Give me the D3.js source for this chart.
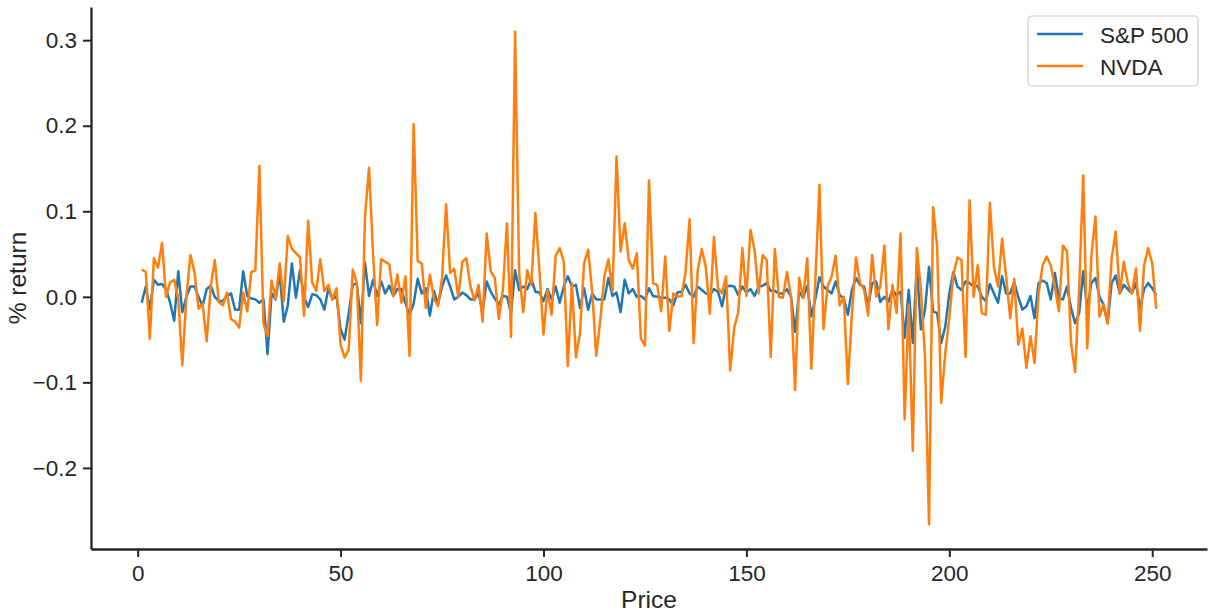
<!DOCTYPE html>
<html><head><meta charset="utf-8">
<script src="https://cdn.jsdelivr.net/npm/d3@7"></script>
<style>
body{margin:0;background:#fff;}
svg{display:block;font-family:"Liberation Sans",Arial,sans-serif;}
</style></head>
<body><svg id="c" width="1213" height="614"></svg>
<script>
const seriesNames = ["S&P 500", "NVDA"];
const seriesColors = ["#1f77b4", "#ff7f0e"];
const xTicks = [0, 50, 100, 150, 200, 250];
const yTicks = [-0.2, -0.1, 0.0, 0.1, 0.2, 0.3];
const xLabel = "Price";
const yLabel = "% return";

const sp500 = [
-0.007,0.012,-0.015,0.020,0.014,0.015,0.009,-0.007,-0.028,0.030,
-0.018,0.000,0.012,0.012,0.000,-0.011,0.009,0.013,0.000,-0.005,
-0.005,0.001,0.004,-0.015,-0.015,0.030,0.001,-0.002,-0.003,-0.007,
-0.003,-0.067,0.004,-0.003,0.028,-0.029,-0.010,0.039,-0.001,0.031,
0.000,-0.012,0.003,0.002,-0.003,-0.015,0.010,-0.003,0.001,-0.038,
-0.050,-0.019,0.014,0.016,-0.031,0.040,0.001,0.020,0.001,0.018,
0.004,0.013,0.001,0.009,0.009,-0.008,-0.021,-0.008,0.021,0.004,
0.010,-0.022,0.007,-0.009,0.012,0.025,0.012,-0.003,0.000,0.005,
0.002,-0.003,-0.003,0.004,-0.017,0.018,0.006,-0.002,-0.009,0.001,
0.000,-0.019,0.031,0.008,0.012,0.009,0.021,0.006,0.005,-0.005,
0.009,-0.003,0.012,-0.007,0.012,0.024,0.012,0.014,-0.013,0.010,
-0.015,0.004,-0.003,-0.003,-0.003,0.022,0.001,0.005,-0.018,0.020,
0.004,0.009,0.000,0.001,-0.003,0.010,0.001,0.000,-0.001,-0.001,
-0.003,-0.010,0.005,0.006,0.014,0.004,0.000,0.012,0.008,0.004,
0.002,0.009,0.006,-0.011,0.012,0.013,0.012,0.002,0.012,0.005,
0.009,0.001,0.012,0.013,0.016,0.007,0.007,0.004,0.004,0.009,
0.000,-0.041,0.006,-0.001,0.013,-0.023,-0.002,0.023,0.012,0.008,
0.004,0.018,0.002,-0.002,-0.021,0.008,0.022,0.014,0.012,-0.011,
0.016,0.018,-0.006,0.000,-0.006,0.008,0.002,0.006,-0.048,0.008,
-0.054,0.037,-0.038,-0.015,0.035,-0.017,-0.019,-0.054,-0.035,0.004,
0.029,0.012,0.008,0.018,0.016,0.012,0.013,0.000,-0.005,0.015,
0.004,-0.007,0.024,0.004,0.004,0.017,0.000,-0.015,-0.011,0.001,
-0.025,0.016,0.019,0.016,-0.003,0.028,-0.002,-0.003,0.012,-0.013,
-0.031,-0.019,0.030,-0.015,0.016,0.022,0.000,-0.009,-0.031,0.016,
0.025,0.004,0.014,0.009,0.004,0.016,-0.013,0.009,0.016,0.010,
0.002];

const nvda = [
0.032,0.029,-0.049,0.045,0.034,0.063,0.000,0.017,0.020,-0.002,
-0.080,0.000,0.049,0.029,-0.014,-0.008,-0.052,0.012,0.043,-0.006,
-0.010,0.005,-0.026,-0.029,-0.036,0.005,-0.017,0.029,0.031,0.153,
-0.031,-0.046,0.019,-0.002,0.039,-0.005,0.071,0.056,0.051,0.046,
-0.022,0.089,0.017,0.007,0.044,0.007,0.014,-0.003,0.010,-0.056,
-0.071,-0.062,0.032,0.016,-0.098,0.092,0.151,0.051,-0.033,0.044,
0.041,0.038,0.001,0.026,-0.007,0.024,-0.069,0.202,0.042,0.039,
-0.013,0.026,-0.002,-0.011,0.022,0.108,0.028,0.033,0.000,0.041,
0.045,0.012,-0.004,0.014,-0.029,0.074,0.030,0.022,-0.026,0.009,
0.086,-0.047,0.310,0.028,-0.018,0.031,0.014,0.098,0.031,-0.044,
0.007,-0.021,0.048,0.057,0.041,-0.081,0.016,-0.071,-0.042,0.039,
0.055,0.006,-0.069,-0.027,0.024,0.044,0.006,0.164,0.053,0.086,
0.043,0.033,0.051,-0.049,-0.057,0.136,0.016,0.014,-0.017,0.047,
-0.040,0.004,0.000,0.001,0.028,0.091,-0.054,0.031,0.056,0.035,
-0.020,0.070,0.010,0.004,0.024,-0.086,-0.036,-0.018,0.057,0.001,
0.078,0.055,0.004,0.049,0.043,-0.070,0.056,0.000,-0.001,0.029,
0.000,-0.109,0.022,-0.001,0.045,-0.084,0.020,0.131,-0.038,0.012,
0.024,0.048,-0.010,0.000,-0.102,-0.020,0.046,0.016,0.008,-0.022,
0.049,0.000,0.012,0.060,-0.038,0.014,-0.019,0.074,-0.143,-0.009,
-0.180,0.057,0.008,-0.070,-0.266,0.105,0.059,-0.124,-0.066,-0.025,
0.026,0.046,0.043,-0.070,0.113,0.000,0.037,-0.019,-0.021,0.110,
0.035,0.012,0.068,0.024,-0.025,0.021,-0.056,-0.037,-0.083,-0.046,
-0.077,0.004,0.037,0.047,0.037,0.012,-0.017,0.060,0.053,-0.054,
-0.088,0.010,0.142,-0.060,0.047,0.094,-0.023,-0.009,-0.031,0.045,
0.076,0.004,0.041,0.016,0.004,0.033,-0.040,0.037,0.057,0.039,
-0.014];

const series = [sp500, nvda];
const xIdx = sp500.map((_, i) => i + 1);

const svg = d3.select("#c");
const ink = "#262626";
const pLeft = 91, pRight = 1207, pTop = 7, pBottom = 549;

// matplotlib-like 5% margins
const xe = d3.extent(xIdx), xr = xe[1] - xe[0];
const allY = sp500.concat(nvda);
const ye = d3.extent(allY), yr = ye[1] - ye[0];
const x = d3.scaleLinear().domain([xe[0] - 0.05 * xr, xe[1] + 0.05 * xr]).range([pLeft, pRight]);
const y = d3.scaleLinear().domain([ye[0] - 0.05 * yr, ye[1] + 0.05 * yr]).range([pBottom, pTop]);

const line = d3.line().x((d, i) => x(xIdx[i])).y(d => y(d));
series.forEach((s, k) => {
  svg.append("path").datum(s).attr("d", line)
    .attr("fill", "none").attr("stroke", seriesColors[k])
    .attr("stroke-width", 2.5).attr("stroke-linejoin", "round").attr("stroke-linecap", "butt");
});

const fmt = d3.format(".1f");
const gx = svg.append("g").attr("transform", `translate(0,${pBottom})`)
  .call(d3.axisBottom(x).tickValues(xTicks).tickFormat(d3.format("d")).tickSize(8).tickSizeOuter(0).tickPadding(8));
const gy = svg.append("g").attr("transform", `translate(${pLeft},0)`)
  .call(d3.axisLeft(y).tickValues(yTicks).tickFormat(fmt).tickSize(8).tickSizeOuter(0).tickPadding(6));
[gx, gy].forEach(g => {
  g.select(".domain").attr("stroke", ink).attr("stroke-width", 2.3);
  g.selectAll(".tick line").attr("stroke", ink).attr("stroke-width", 2);
  g.selectAll(".tick text").attr("fill", ink).style("font-size", "22.5px")
    .style("font-family", '"Liberation Sans",Arial,sans-serif');
});

svg.append("text").attr("x", (pLeft + pRight) / 2).attr("y", 608)
  .attr("text-anchor", "middle").attr("fill", ink).style("font-size", "24.5px").text(xLabel);
svg.append("text").attr("transform", `translate(26,${(pTop + pBottom) / 2}) rotate(-90)`)
  .attr("text-anchor", "middle").attr("fill", ink).style("font-size", "24.5px").text(yLabel);

// legend
const lg = svg.append("g");
lg.append("rect").attr("x", 1028).attr("y", 16).attr("width", 170).attr("height", 70)
  .attr("rx", 4).attr("fill", "white").attr("fill-opacity", 0.8)
  .attr("stroke", "#cccccc").attr("stroke-width", 1.2);
seriesNames.forEach((n, k) => {
  const yy = 34 + k * 32;
  lg.append("line").attr("x1", 1037).attr("x2", 1083).attr("y1", yy).attr("y2", yy)
    .attr("stroke", seriesColors[k]).attr("stroke-width", 2.5);
  lg.append("text").attr("x", 1100).attr("y", yy + 8.5).attr("fill", ink)
    .style("font-size", "22.5px").text(n);
});
</script></body></html>
